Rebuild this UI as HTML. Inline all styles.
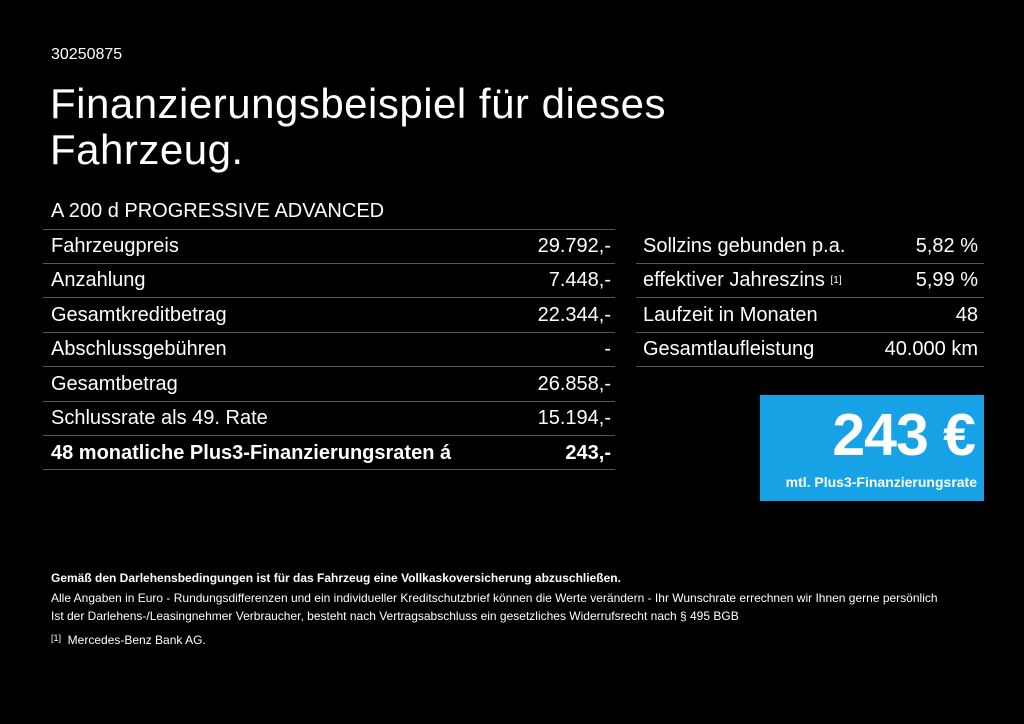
<!DOCTYPE html>
<html><head><meta charset="utf-8"><style>
body{margin:0;background:#000;width:1024px;height:724px;overflow:hidden;position:relative;font-family:"Liberation Sans",Arial,sans-serif;color:#fff}
.a{position:absolute;white-space:nowrap}
.hl{position:absolute;height:1px;background:#555}
.r{position:absolute;font-size:20px;line-height:34px;height:34px;white-space:nowrap}
.r .v{position:absolute;right:0;top:0}
.f{position:absolute;left:51px;font-size:12px;white-space:nowrap;color:#fff}
sup.s{font-size:10px;line-height:0;position:relative;top:-3px;vertical-align:baseline}
</style></head><body>
<div class="a" style="left:51px;top:46px;font-size:16px">30250875</div>
<div class="a" style="left:50px;top:81px;font-size:42px;line-height:46px;letter-spacing:0.5px">Finanzierungsbeispiel für dieses<br>Fahrzeug.</div>
<div class="a" style="left:51px;top:200px;font-size:20px">A 200 d PROGRESSIVE ADVANCED</div>

<div class="hl" style="left:43px;width:572px;top:229px"></div>
<div class="r" style="left:51px;width:560px;top:229px">Fahrzeugpreis<span class="v">29.792,-</span></div>
<div class="hl" style="left:43px;width:572px;top:263px"></div>
<div class="r" style="left:51px;width:560px;top:263px">Anzahlung<span class="v">7.448,-</span></div>
<div class="hl" style="left:43px;width:572px;top:297px"></div>
<div class="r" style="left:51px;width:560px;top:298px">Gesamtkreditbetrag<span class="v">22.344,-</span></div>
<div class="hl" style="left:43px;width:572px;top:332px"></div>
<div class="r" style="left:51px;width:560px;top:332px">Abschlussgebühren<span class="v">-</span></div>
<div class="hl" style="left:43px;width:572px;top:366px"></div>
<div class="r" style="left:51px;width:560px;top:367px">Gesamtbetrag<span class="v">26.858,-</span></div>
<div class="hl" style="left:43px;width:572px;top:401px"></div>
<div class="r" style="left:51px;width:560px;top:401px">Schlussrate als 49. Rate<span class="v">15.194,-</span></div>
<div class="hl" style="left:43px;width:572px;top:435px"></div>
<div class="r" style="left:51px;width:560px;top:436px;font-weight:bold">48 monatliche Plus3-Finanzierungsraten á<span class="v">243,-</span></div>
<div class="hl" style="left:43px;width:572px;top:469px"></div>

<div class="r" style="left:643px;width:335px;top:229px">Sollzins gebunden p.a.<span class="v">5,82 %</span></div>
<div class="hl" style="left:636px;width:348px;top:263px"></div>
<div class="r" style="left:643px;width:335px;top:263px">effektiver Jahreszins <sup class="s">[1]</sup><span class="v">5,99 %</span></div>
<div class="hl" style="left:636px;width:348px;top:297px"></div>
<div class="r" style="left:643px;width:335px;top:298px">Laufzeit in Monaten<span class="v">48</span></div>
<div class="hl" style="left:636px;width:348px;top:332px"></div>
<div class="r" style="left:643px;width:335px;top:332px">Gesamtlaufleistung<span class="v">40.000 km</span></div>
<div class="hl" style="left:636px;width:348px;top:366px"></div>

<div style="position:absolute;left:760px;top:395px;width:224px;height:106px;background:#17a2e6">
<div class="a" style="right:9px;top:6px;font-size:59px;font-weight:bold;letter-spacing:-1px">243 €</div>
<div class="a" style="right:7px;top:79px;font-size:14px;font-weight:bold">mtl. Plus3-Finanzierungsrate</div>
</div>

<div class="f" style="top:571px;font-weight:bold">Gemäß den Darlehensbedingungen ist für das Fahrzeug eine Vollkaskoversicherung abzuschließen.</div>
<div class="f" style="top:591px">Alle Angaben in Euro - Rundungsdifferenzen und ein individueller Kreditschutzbrief können die Werte verändern - Ihr Wunschrate errechnen wir Ihnen gerne persönlich</div>
<div class="f" style="top:609px">Ist der Darlehens-/Leasingnehmer Verbraucher, besteht nach Vertragsabschluss ein gesetzliches Widerrufsrecht nach § 495 BGB</div>
<div class="f" style="top:633px"><span style="font-size:9px;position:relative;top:-3px">[1]</span>&nbsp; Mercedes-Benz Bank AG.</div>
</body></html>
